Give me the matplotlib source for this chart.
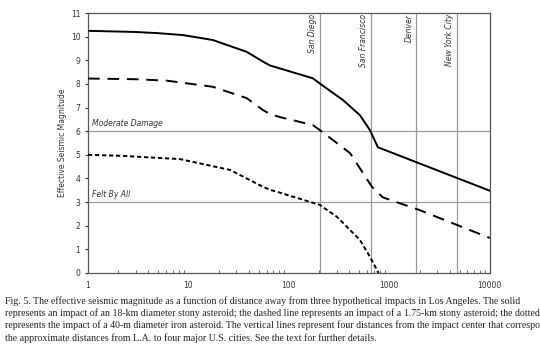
import matplotlib.pyplot as plt

# distances (km) and effective seismic magnitudes
dist_solid = [1, 3, 5, 8.8, 17.5, 38, 55, 65, 81, 173, 203, 345, 509, 640, 769, 10000]
mag_solid = [10.25, 10.2, 10.15, 10.07, 9.86, 9.36, 8.95, 8.78, 8.66, 8.24, 8.02, 7.32, 6.68, 6.05, 5.32, 3.48]

dist_dash = [1, 3, 6.1, 17.5, 38, 55, 65, 81, 173, 203, 407, 670, 860, 2000, 10000]
mag_dash = [8.23, 8.2, 8.14, 7.88, 7.4, 6.9, 6.72, 6.6, 6.26, 6.05, 5.07, 3.65, 3.2, 2.66, 1.48]

dist_dot = [1, 2.08, 8.2, 26, 55, 65, 81, 203, 300, 509, 640, 780]
mag_dot = [5.0, 4.96, 4.82, 4.36, 3.65, 3.52, 3.4, 2.88, 2.38, 1.4, 0.69, 0.0]

cities = ['San Diego', 'San Francisco', 'Denver', 'New York City']
city_dist = [203, 655, 1862, 4700]

levels = [6, 3]
level_names = ['Moderate Damage', 'Felt By All']

caption = ("Fig. 5. The effective seismic magnitude as a function of distance away from three hypothetical impacts in Los Angeles. The solid\n"
           "represents an impact of an 18-km diameter stony asteroid; the dashed line represents an impact of a 1.75-km stony asteroid; the dotted\n"
           "represents the impact of a 40-m diameter iron asteroid. The vertical lines represent four distances from the impact center that correspo\n"
           "the approximate distances from L.A. to four major U.S. cities. See the text for further details.")

fig = plt.figure(figsize=(5.4, 3.54), dpi=100)
ax = fig.add_axes([0.163, 0.229, 0.744, 0.734])

grey = '#9a9a9a'
for d, name in zip(city_dist, cities):
    ax.axvline(d, color=grey, lw=0.9, zorder=1)
    ax.text(d * 0.94, 10.97, name, rotation=90, ha='right', va='top',
            fontsize=5.5, style='italic', color='#333333')
for v, name in zip(levels, level_names):
    ax.axhline(v, color=grey, lw=0.9, zorder=1)
    ax.text(1.1, v + 0.12, name, ha='left', va='bottom',
            fontsize=5.5, style='italic', color='#333333')

ax.plot(dist_solid, mag_solid, color='black', lw=1.4, zorder=3)
ax.plot(dist_dash, mag_dash, color='black', lw=1.4, dashes=(6, 4), zorder=3)
ax.plot(dist_dot, mag_dot, color='black', lw=1.4, dashes=(2.2, 1.4), zorder=3)

ax.set_xscale('log')
ax.set_xlim(1, 10000)
ax.set_ylim(0, 11)
ax.set_yticks(range(0, 12))
ax.set_xticks([1, 10, 100, 1000, 10000])
ax.set_xticklabels(['1', '10', '100', '1000', '10000'])
ax.tick_params(axis='x', which='major', direction='in', length=0, labelsize=5.5,
               colors='#333333', pad=6)
ax.tick_params(axis='x', which='minor', direction='in', length=2, color='#555555')
ax.tick_params(axis='y', direction='out', length=2, labelsize=5.5, colors='#333333')
for s in ax.spines.values():
    s.set_color('#555555')
    s.set_linewidth(0.9)
ax.set_ylabel('Effective Seismic Magnitude', fontsize=5.5, color='#333333', labelpad=3)

fig.text(0.009, 0.163, caption, ha='left', va='top', fontsize=7.15,
         family='Liberation Serif', color='#222222', linespacing=1.32)

fig.savefig('out.png', dpi=100)
